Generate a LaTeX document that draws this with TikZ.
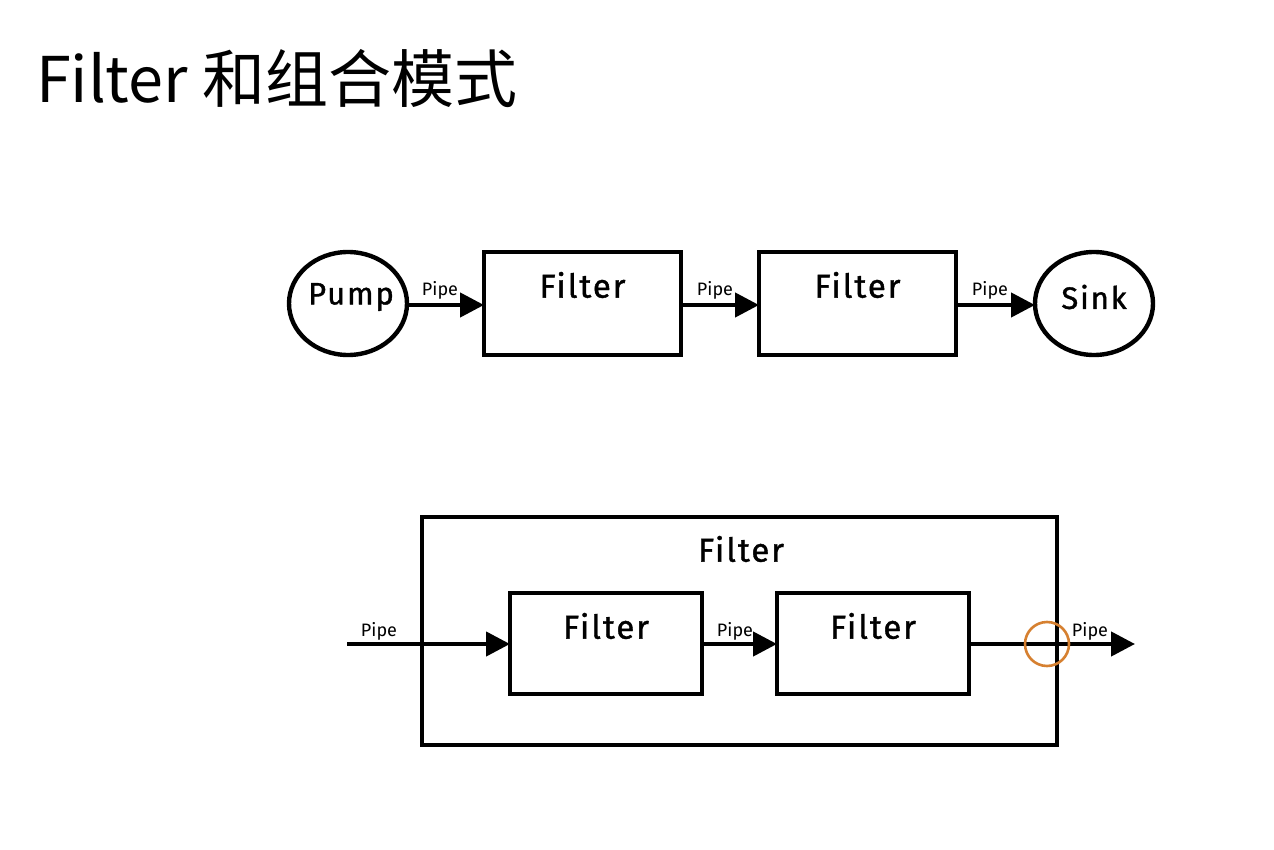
\documentclass[tikz,border=0pt]{standalone}
\usepackage{fontspec}
\setmainfont{Fira Sans}
\newfontfamily\comic[LetterSpace=6,FakeBold=1.2]{Fira Sans}
\newfontfamily\cjk{Noto Sans CJK SC}
\usetikzlibrary{arrows.meta,shapes.geometric}
\definecolor{ringorange}{RGB}{214,128,48}
\tikzset{
  x=0.5pt,y=-0.5pt,
  every node/.style={inner sep=0pt,outer sep=0pt},
  boxst/.style={draw,line width=2.2pt,rectangle},
  ovalst/.style={draw,line width=2.2pt,ellipse},
  bigtxt/.style={font=\comic\fontsize{16.5}{16.5}\selectfont},
  endtxt/.style={font=\comic\fontsize{15.5}{15.5}\selectfont},
  pipetxt/.style={font=\fontsize{9}{9}\selectfont},
  pipeline/.style={line width=2.2pt,-{Triangle[length=12pt,width=12pt]}},
}
\begin{document}
\begin{tikzpicture}
\useasboundingbox[fill=white] (0,0) rectangle (1274,850);
% title
\node[anchor=base west,font=\cjk\fontsize{31.5}{31.5}\selectfont] (title) at (36,103) {Filter 和组合模式};

% top row
\node[ovalst,minimum width=59pt,minimum height=51.5pt] (pump) at (348,303.5) {};
\node[endtxt] (pumpt) at (351,297) {Pump};
\node[boxst,minimum width=98.5pt,minimum height=51.5pt] (f1) at (582.5,303.5) {};
\node[bigtxt] (f1t) at (582.5,285) {Filter};
\node[boxst,minimum width=98.5pt,minimum height=51.5pt] (f2) at (857.5,303.5) {};
\node[bigtxt] (f2t) at (857.5,285) {Filter};
\node[ovalst,minimum width=59pt,minimum height=51.5pt] (sink) at (1094,303.5) {};
\node[endtxt] (sinkt) at (1094,297) {Sink};

\draw[pipeline] (pump.east |- 0,305) -- (f1.west |- 0,305);
\draw[pipeline] (f1.east |- 0,305) -- (f2.west |- 0,305);
\draw[pipeline] (f2.east |- 0,305) -- (sink.west |- 0,305);
\node[pipetxt] (p1) at (440,290) {Pipe};
\node[pipetxt] (p2) at (715,290) {Pipe};
\node[pipetxt] (p3) at (990,290) {Pipe};

% bottom composite
\node[boxst,minimum width=317.5pt,minimum height=114pt] (outer) at (739.5,631) {};
\node[bigtxt] (outert) at (741,549) {Filter};
\node[boxst,minimum width=96pt,minimum height=50.5pt] (g1) at (606,643.5) {};
\node[bigtxt] (g1t) at (606,626) {Filter};
\node[boxst,minimum width=96pt,minimum height=50.5pt] (g2) at (873,643.5) {};
\node[bigtxt] (g2t) at (873,626) {Filter};
\coordinate (in) at (347,644);
\coordinate (out) at (1135,644);
\draw[pipeline] (in) -- (g1.west |- in);
\draw[pipeline] (g1.east |- in) -- (g2.west |- in);
\draw[pipeline] (g2.east |- in) -- (out);
\node[pipetxt] (q1) at (379,631) {Pipe};
\node[pipetxt] (q2) at (735,631) {Pipe};
\node[pipetxt] (q3) at (1090,631) {Pipe};
\node[draw=ringorange,line width=1.3pt,circle,minimum size=22pt] (ring) at (1047,644) {};
\end{tikzpicture}
\end{document}
